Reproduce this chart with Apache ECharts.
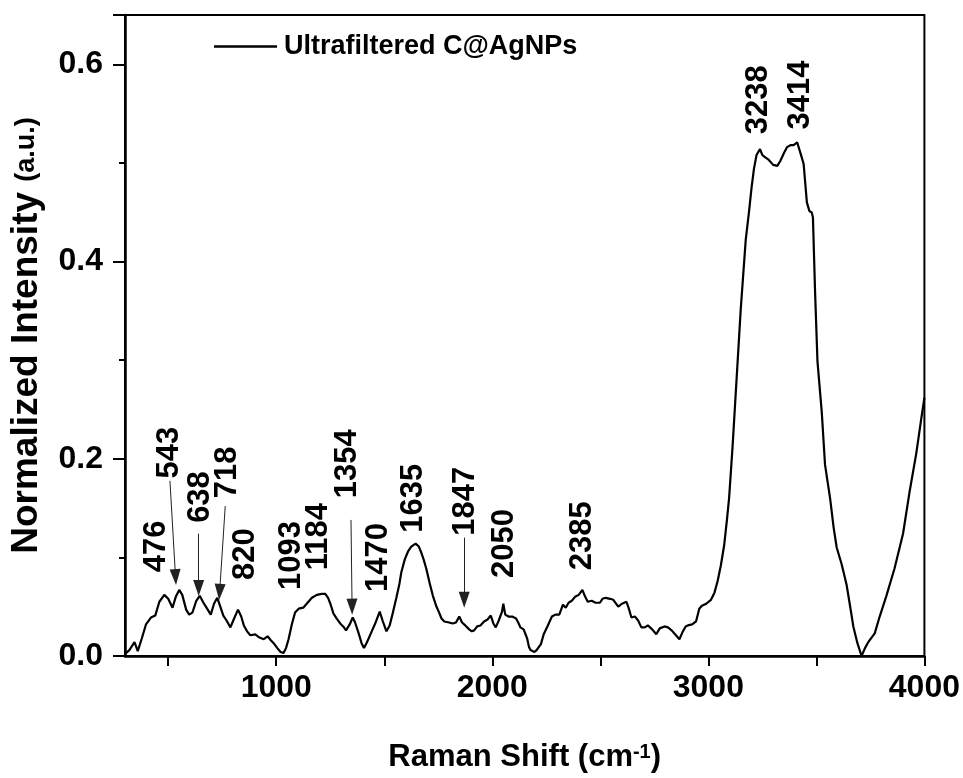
<!DOCTYPE html>
<html>
<head>
<meta charset="utf-8">
<script src="https://cdn.jsdelivr.net/npm/echarts@6/dist/echarts.min.js"></script>
<style>
html,body{margin:0;padding:0;background:#fff;}
#chart{width:963px;height:778px;}
</style>
</head>
<body>
<div id="chart"></div>
<script>
// ---- data ----
const seriesName = 'Ultrafiltered C@AgNPs';
const ramanShift = [300,320,344,359,378,397,420,440,459,482,500,520,535,551,565,583,597,612,630,646,663,680,697,712,727,738,755,770,788,805,823,838,850,865,880,903,920,942,960,975,988,1005,1020,1034,1045,1057,1072,1087,1104,1125,1145,1165,1188,1210,1227,1240,1252,1265,1280,1296,1310,1323,1340,1354,1365,1380,1395,1406,1420,1440,1460,1479,1492,1510,1525,1540,1556,1570,1579,1595,1610,1625,1645,1660,1671,1682,1694,1710,1725,1740,1752,1765,1778,1800,1817,1832,1847,1860,1875,1893,1905,1916,1930,1945,1962,1978,1993,2005,2016,2030,2045,2051,2060,2075,2092,2110,2120,2130,2145,2161,2170,2177,2195,2205,2212,2225,2238,2255,2276,2292,2310,2327,2340,2353,2368,2383,2400,2417,2430,2442,2460,2478,2498,2510,2525,2545,2560,2583,2600,2621,2632,2644,2660,2675,2690,2706,2720,2740,2759,2775,2797,2813,2830,2850,2866,2880,2895,2905,2925,2943,2958,2970,2990,3012,3028,3043,3058,3073,3086,3096,3112,3131,3150,3173,3188,3200,3211,3223,3239,3250,3262,3280,3300,3319,3333,3350,3364,3380,3395,3411,3425,3441,3456,3468,3478,3484,3494,3505,3525,3540,3564,3580,3594,3617,3640,3655,3671,3690,3709,3725,3740,3770,3793,3824,3862,3901,3931,3962,3985,4000];
const intensity = [0.002,0.006,0.014,0.005,0.018,0.032,0.039,0.041,0.055,0.062,0.058,0.049,0.060,0.067,0.062,0.047,0.042,0.044,0.056,0.061,0.054,0.048,0.042,0.053,0.059,0.052,0.041,0.036,0.029,0.038,0.047,0.040,0.031,0.025,0.021,0.022,0.019,0.017,0.020,0.016,0.013,0.008,0.004,0.003,0.008,0.017,0.032,0.044,0.048,0.049,0.054,0.059,0.062,0.063,0.063,0.059,0.052,0.043,0.038,0.033,0.030,0.026,0.032,0.039,0.034,0.024,0.013,0.008,0.014,0.024,0.034,0.045,0.036,0.025,0.031,0.044,0.059,0.073,0.085,0.098,0.106,0.111,0.114,0.111,0.105,0.098,0.089,0.074,0.061,0.051,0.045,0.038,0.035,0.034,0.033,0.034,0.040,0.034,0.031,0.027,0.025,0.026,0.030,0.031,0.035,0.037,0.041,0.033,0.029,0.036,0.045,0.053,0.042,0.040,0.040,0.038,0.034,0.029,0.027,0.018,0.009,0.006,0.004,0.006,0.004,0.012,0.022,0.030,0.040,0.042,0.042,0.052,0.049,0.054,0.056,0.060,0.062,0.067,0.060,0.055,0.056,0.054,0.054,0.058,0.059,0.058,0.057,0.050,0.053,0.055,0.048,0.039,0.040,0.036,0.029,0.029,0.031,0.027,0.022,0.028,0.030,0.029,0.026,0.021,0.017,0.024,0.030,0.031,0.032,0.035,0.048,0.051,0.053,0.057,0.064,0.076,0.092,0.112,0.138,0.160,0.212,0.282,0.352,0.422,0.450,0.475,0.494,0.508,0.514,0.508,0.506,0.503,0.498,0.497,0.502,0.510,0.516,0.518,0.518,0.521,0.511,0.499,0.460,0.451,0.450,0.445,0.369,0.299,0.247,0.194,0.159,0.130,0.110,0.093,0.072,0.052,0.030,0.013,0.000,0.008,0.014,0.023,0.040,0.061,0.089,0.124,0.166,0.205,0.240,0.262];

const xTickValues = [500,1000,1500,2000,2500,3000,3500,4000];
const xLabelValues = [1000,2000,3000,4000];
const yLabelValues = [0,0.2,0.4,0.6];

// peak annotations: label text, anchor wavenumber, anchor intensity (bottom of the rotated text)
const peakLabels = ['476','543','638','718','820','1093','1184','1354','1470','1635','1847','2050','2385','3238','3414'];
const peakLabelX = [445,507,649,775,856,1070,1197,1331,1474,1634,1878,2057,2416,3232,3425];
const peakLabelY = [0.085,0.180,0.135,0.160,0.077,0.067,0.087,0.160,0.065,0.125,0.122,0.079,0.087,0.529,0.534];

// arrows: from (x1,y1) to (x2,y2)
const arrowX1 = [508,641,764,1346,1870];
const arrowY1 = [0.1776,0.124,0.152,0.138,0.120];
const arrowX2 = [534,641,738,1351,1870];
const arrowY2 = [0.080,0.069,0.065,0.050,0.057];

// ---- chart ----
const FONT = "'Liberation Sans', Arial, Helvetica, sans-serif";
const lineData = ramanShift.map((x,i)=>[x,intensity[i]]);
const labelData = peakLabels.map((t,i)=>({name:t, value:[peakLabelX[i], peakLabelY[i]]}));
const arrowData = arrowX1.map((x,i)=>[{coord:[x, arrowY1[i]]},{coord:[arrowX2[i], arrowY2[i]]}]);

const chart = echarts.init(document.getElementById('chart'), null, {renderer:'canvas'});
chart.setOption({
  animation:false,
  backgroundColor:'#fff',
  textStyle:{fontFamily:FONT},
  grid:{left:122, right:38, top:15, bottom:116, show:true, borderColor:'#000', borderWidth:2, backgroundColor:'transparent'},
  legend:{
    data:[{name:seriesName, icon:'rect'}], left:214, top:33, padding:0,
    itemWidth:63, itemHeight:2.5, itemGap:8,
    itemStyle:{color:'#000'},
    textStyle:{fontFamily:FONT, fontWeight:'bold', fontSize:27, color:'#000', padding:[0,0,0,2]}
  },
  xAxis:{
    type:'value', min:300, max:4000,
    name:'Raman Shift (cm{sup|-1})', nameLocation:'middle', nameGap:86,
    nameTextStyle:{fontFamily:FONT, fontWeight:'bold', fontSize:31, color:'#000',
      rich:{sup:{fontFamily:FONT, fontWeight:'bold', fontSize:20, color:'#000', verticalAlign:'top', lineHeight:20}}},
    axisLine:{show:true, onZero:false, lineStyle:{color:'#000', width:2.5}},
    axisTick:{show:true, inside:false, length:10, customValues:xTickValues, lineStyle:{color:'#000', width:2}},
    axisLabel:{show:true, customValues:xLabelValues, margin:16, fontFamily:FONT, fontWeight:'bold', fontSize:32, color:'#000',
      formatter:(v)=>String(v)},
    splitLine:{show:false}
  },
  yAxis:{
    type:'value', min:0, max:0.65, interval:0.2,
    name:'Normalized Intensity {s|(a.u.)}', nameLocation:'middle', nameGap:80, nameRotate:90,
    nameTextStyle:{fontFamily:FONT, fontWeight:'bold', fontSize:37, color:'#000',
      rich:{s:{fontFamily:FONT, fontWeight:'bold', fontSize:27, color:'#000'}}},
    axisLine:{show:true, lineStyle:{color:'#000', width:2.5}},
    axisTick:{show:true, inside:false, length:12, lineStyle:{color:'#000', width:2}},
    minorTick:{show:true, splitNumber:2, length:6, lineStyle:{color:'#000', width:2}},
    axisLabel:{show:true, margin:22, customValues:yLabelValues, fontFamily:FONT, fontWeight:'bold', fontSize:32, color:'#000',
      formatter:(v)=>Number(v).toFixed(1)},
    splitLine:{show:false}, minorSplitLine:{show:false}
  },
  series:[
    {
      name:seriesName, type:'line', data:lineData, symbol:'none', showSymbol:false,
      lineStyle:{color:'#000', width:2.2}, itemStyle:{color:'#000'},
      markLine:{
        silent:true, symbol:['none','triangle'], symbolSize:[11,16],
        label:{show:false},
        lineStyle:{color:'#222', width:1, type:'solid', opacity:1},
        itemStyle:{color:'#000'},
        emphasis:{disabled:true},
        data:arrowData
      }
    },
    {
      name:'peaks', type:'scatter', data:labelData, symbolSize:0, silent:true, z:5,
      itemStyle:{color:'#000', opacity:1},
      label:{show:true, formatter:(p)=>p.name, position:[0,0], rotate:90, align:'left', verticalAlign:'middle',
        fontFamily:FONT, fontWeight:'bold', fontSize:31, color:'#000', opacity:1, textBorderWidth:0}
    }
  ]
});
</script>
</body>
</html>
